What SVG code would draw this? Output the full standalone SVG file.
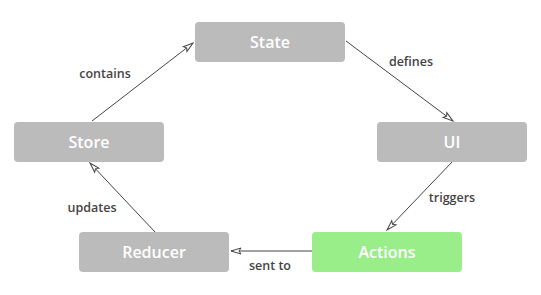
<svg xmlns="http://www.w3.org/2000/svg" width="541" height="295" viewBox="0 0 541 295">
<style>
.box{fill:#bbbbbb}
.act{fill:#99ee8a}
.nt{font-family:"Open Sans",Lato,sans-serif;font-size:16px;font-weight:600;fill:#ffffff;text-anchor:middle;dominant-baseline:central}
.lb{font-family:"Open Sans",Lato,sans-serif;font-size:12.5px;font-weight:600;fill:#444444;text-anchor:middle}
.ln{stroke:#444444;stroke-width:1;fill:none;marker-end:url(#ah)}
</style>
<defs>
<marker id="ah" viewBox="0 0 12 8" refX="11" refY="4" markerWidth="12" markerHeight="8" markerUnits="userSpaceOnUse" orient="auto">
<path d="M1,1 L11,4 L1,7 L3,4 Z" fill="#ffffff" stroke="#444444" stroke-width="1"/>
</marker>
</defs>
<rect width="541" height="295" fill="#ffffff"/>
<g id="connectors">
<line class="ln" x1="92" y1="121" x2="193" y2="43"/>
<line class="ln" x1="346" y1="41" x2="453" y2="121"/>
<line class="ln" x1="453" y1="161" x2="387" y2="230"/>
<line class="ln" x1="312" y1="251" x2="231" y2="251"/>
<line class="ln" x1="155" y1="232" x2="90" y2="163"/>
<text class="lb" x="105" y="78">contains</text>
<text class="lb" x="411" y="66">defines</text>
<text class="lb" x="452" y="202">triggers</text>
<text class="lb" x="92" y="212">updates</text>
<text class="lb" x="270" y="270">sent to</text>
</g>
<g id="state"><rect class="box" x="195" y="22" width="150" height="40" rx="4"/><text class="nt" x="270" y="42">State</text></g>
<g id="store"><rect class="box" x="14" y="122" width="150" height="40" rx="4"/><text class="nt" x="89" y="142">Store</text></g>
<g id="ui"><rect class="box" x="377" y="122" width="150" height="40" rx="4"/><text class="nt" x="452" y="142">UI</text></g>
<g id="reducer"><rect class="box" x="79" y="232" width="150" height="40" rx="4"/><text class="nt" x="154" y="252">Reducer</text></g>
<g id="actions"><rect class="act" x="312" y="232" width="150" height="40" rx="4"/><text class="nt" x="387" y="252">Actions</text></g>
</svg>
